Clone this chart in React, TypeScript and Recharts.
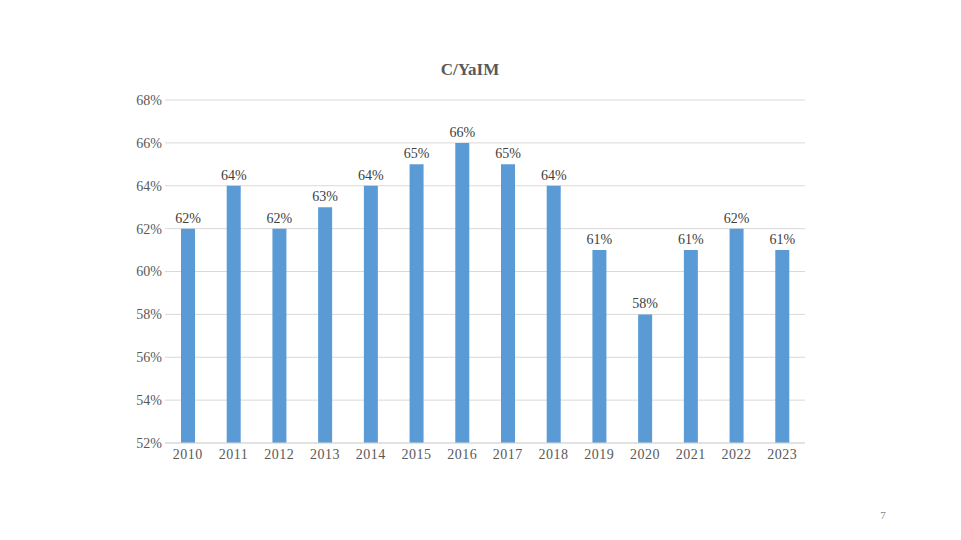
import React from "react";
import { Bar, BarChart, CartesianGrid, LabelList, XAxis, YAxis } from "recharts";

const years = ["2010", "2011", "2012", "2013", "2014", "2015", "2016", "2017", "2018", "2019", "2020", "2021", "2022", "2023"];
const shares = [62, 64, 62, 63, 64, 65, 66, 65, 64, 61, 58, 61, 62, 61];
const yTicks = [52, 54, 56, 58, 60, 62, 64, 66, 68];

const data = years.map((year, i) => ({ year, value: shares[i] }));

const font = "'Liberation Serif', 'Times New Roman', serif";
const textColor = "#595959";

export default function App() {
  return (
    <div
      style={{
        position: "absolute",
        left: 0,
        top: 0,
        width: 961,
        height: 540,
        background: "#fff",
        fontFamily: font,
      }}
    >
      <div
        style={{
          position: "absolute",
          left: 370,
          width: 200,
          top: 60,
          textAlign: "center",
          fontSize: 17,
          fontWeight: "bold",
          color: textColor,
        }}
      >
        C/YaIM
      </div>
      <BarChart
        width={961}
        height={540}
        data={data}
        margin={{ top: 100, right: 156, bottom: 67, left: 105 }}
      >
        <CartesianGrid vertical={false} stroke="#D9D9D9" />
        <XAxis
          dataKey="year"
          height={30}
          tickLine={false}
          axisLine={{ stroke: "#D9D9D9" }}
          tick={{ fontSize: 14, fill: textColor, fontFamily: font, letterSpacing: 0.5 }}
          interval={0}
          dy={-2}
        />
        <YAxis
          width={60}
          domain={[52, 68]}
          ticks={yTicks}
          tickFormatter={(v: number) => `${v}%`}
          axisLine={false}
          tickLine={false}
          tick={{ fontSize: 14, fill: textColor, fontFamily: font }}
          dx={5}
        />
        <Bar dataKey="value" fill="#5B9BD5" barSize={14} isAnimationActive={false}>
          <LabelList
            dataKey="value"
            position="top"
            offset={6}
            formatter={(v: number) => `${v}%`}
            style={{ fontSize: 14, fill: "#404040", fontFamily: font }}
          />
        </Bar>
      </BarChart>
      <div
        style={{
          position: "absolute",
          left: 870,
          width: 26,
          top: 509,
          textAlign: "center",
          fontSize: 11,
          color: "#888",
        }}
      >
        7
      </div>
    </div>
  );
}
